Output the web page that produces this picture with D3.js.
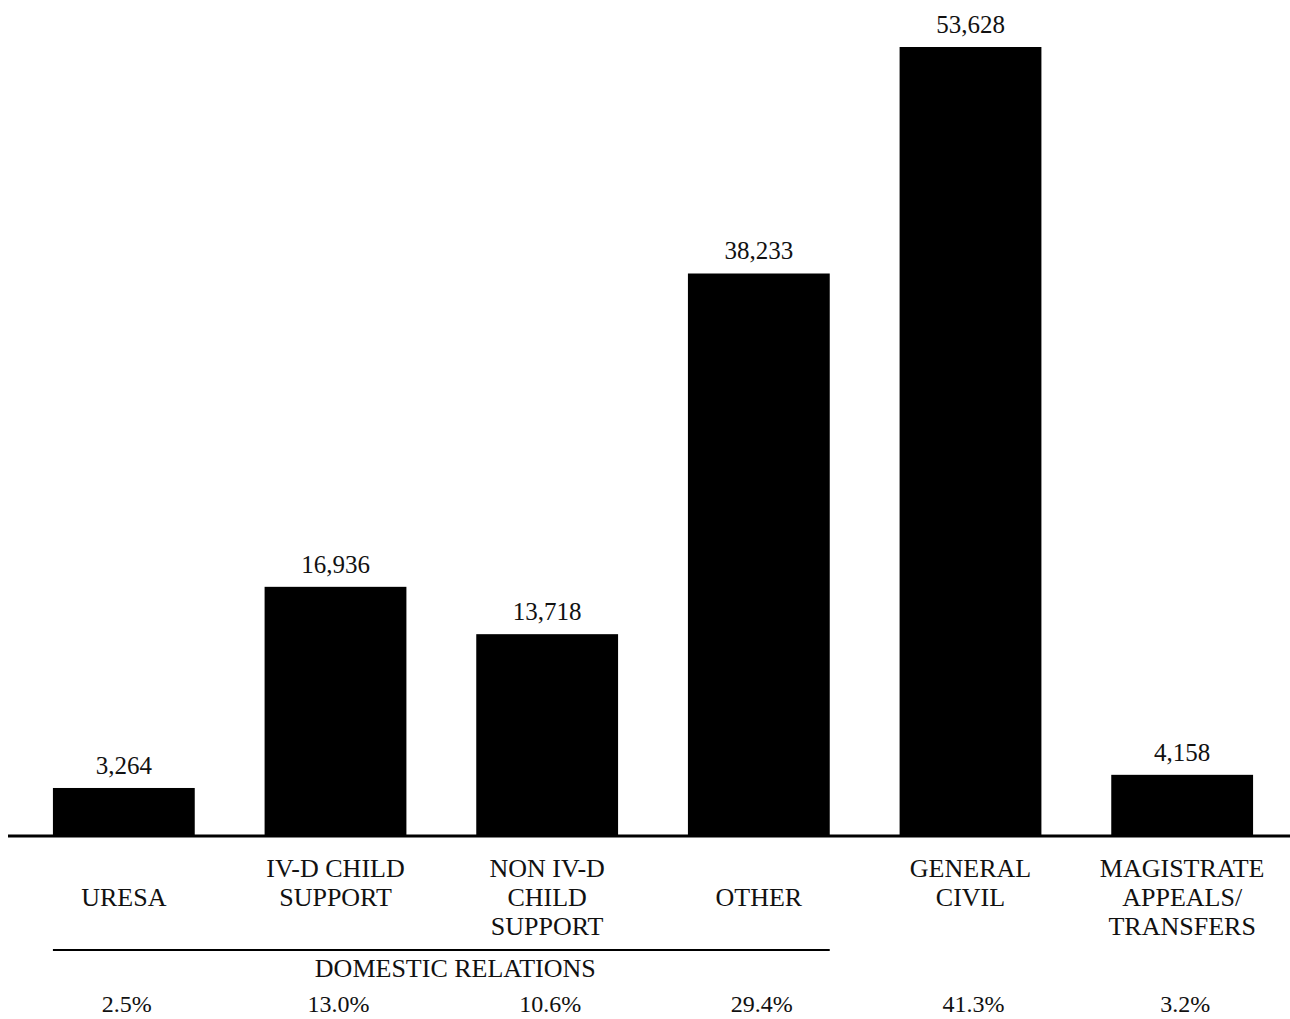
<!DOCTYPE html>
<html>
<head>
<meta charset="utf-8">
<script src="https://cdn.jsdelivr.net/npm/d3@7"></script>
<style>
  body { margin: 0; background: #fff; }
  text { font-family: "Liberation Serif", "Times New Roman", serif; fill: #111; }
</style>
</head>
<body>
<svg id="chart" width="1290" height="1019"></svg>
<script>
// chart data
const categories = ["URESA", "IV-D CHILD SUPPORT", "NON IV-D CHILD SUPPORT", "OTHER", "GENERAL CIVIL", "MAGISTRATE APPEALS/ TRANSFERS"];
const labelLines = [["URESA"], ["IV-D CHILD", "SUPPORT"], ["NON IV-D", "CHILD", "SUPPORT"], ["OTHER"], ["GENERAL", "CIVIL"], ["MAGISTRATE", "APPEALS/", "TRANSFERS"]];
const values = [3264, 16936, 13718, 38233, 53628, 4158];
const percents = ["2.5%", "13.0%", "10.6%", "29.4%", "41.3%", "3.2%"];
const groupName = "DOMESTIC RELATIONS";
const groupMembers = ["URESA", "IV-D CHILD SUPPORT", "NON IV-D CHILD SUPPORT", "OTHER"];

let svg = d3.select("#chart");
let width = parseInt(svg.attr("width"));

let baseY = 836;

let x = d3.scaleBand()
    .domain(categories)
    .range([18, 1288])
    .paddingInner(0.33)
    .paddingOuter(0.165);

let y = d3.scaleLinear()
    .domain([0, d3.max(values)])
    .range([baseY, 47]);

let fmt = d3.format(",");

// bars
svg.selectAll("rect.bar")
    .data(values)
    .join("rect")
    .attr("class", "bar")
    .attr("x", (d, i) => x(categories[i]))
    .attr("y", d => y(d))
    .attr("width", x.bandwidth())
    .attr("height", d => baseY - y(d))
    .attr("fill", "#000");

// baseline
svg.append("line")
    .attr("x1", 8).attr("x2", width)
    .attr("y1", baseY).attr("y2", baseY)
    .attr("stroke", "#000")
    .attr("stroke-width", 3);

// value labels
svg.selectAll("text.val")
    .data(values)
    .join("text")
    .attr("class", "val")
    .attr("x", (d, i) => x(categories[i]) + x.bandwidth() / 2)
    .attr("y", d => y(d) - 14)
    .attr("text-anchor", "middle")
    .style("font-size", "25px")
    .text(d => fmt(d));

// category labels
let lineH = 29;
let catG = svg.selectAll("text.cat")
    .data(categories)
    .join("text")
    .attr("class", "cat")
    .attr("text-anchor", "middle")
    .style("font-size", "26px");

catG.each(function (c, i) {
    let lines = labelLines[i];
    let startRow = lines.length === 1 ? 1 : 0;
    let cx = x(c) + x.bandwidth() / 2;
    d3.select(this).selectAll("tspan")
        .data(lines)
        .join("tspan")
        .attr("x", cx)
        .attr("y", (l, j) => 877 + (startRow + j) * lineH)
        .text(l => l);
});

// domestic relations group line
let gx0 = x(groupMembers[0]);
let gx1 = x(groupMembers[groupMembers.length - 1]) + x.bandwidth();
svg.append("line")
    .attr("x1", gx0).attr("x2", gx1)
    .attr("y1", 950).attr("y2", 950)
    .attr("stroke", "#000")
    .attr("stroke-width", 2);

svg.append("text")
    .attr("x", (gx0 + gx1) / 2 + 14)
    .attr("y", 977)
    .attr("text-anchor", "middle")
    .style("font-size", "26px")
    .text(groupName);

// percentages
svg.selectAll("text.pct")
    .data(percents)
    .join("text")
    .attr("class", "pct")
    .attr("x", (d, i) => x(categories[i]) + x.bandwidth() / 2 + 3)
    .attr("y", 1012)
    .attr("text-anchor", "middle")
    .style("font-size", "24px")
    .text(d => d);
</script>
</body>
</html>
